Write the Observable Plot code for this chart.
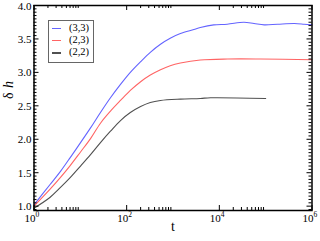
<!DOCTYPE html>
<html><head><meta charset="utf-8">
<script src="https://cdn.jsdelivr.net/npm/d3@7"></script>
<script src="https://cdn.jsdelivr.net/npm/@observablehq/plot@0.6"></script>
<style>
html,body{margin:0;padding:0;background:#fff;}
#wrap{position:relative;width:320px;height:241px;overflow:hidden;}
#legend{position:absolute;left:48px;top:19.5px;width:46px;height:43px;border:1px solid #666;box-sizing:border-box;background:#fff;font-family:"Liberation Serif","DejaVu Serif","Times New Roman",serif;font-size:10.5px;color:#000;}
#legend .row{position:absolute;left:0;height:12px;width:44px;}
#legend .sw{position:absolute;left:2.5px;top:6px;width:9px;height:1.3px;}
#legend .lab{position:absolute;left:20px;top:0;line-height:12px;white-space:nowrap;}
</style></head>
<body>
<div id="wrap"><div id="chart"></div><div id="legend"></div></div>
<script>
// series (3,3)
const tBlue = [1, 2.2, 3.73, 6.1, 10.1, 16.6, 27.2, 44.7, 73.6, 120, 200, 324, 537, 870, 1445, 2818, 3890, 7586, 14800, 33900, 56200, 93300, 182000, 417000, 676000, 1000000];
const hBlue = [1.02, 1.32, 1.52, 1.73, 1.95, 2.17, 2.40, 2.62, 2.82, 3.00, 3.16, 3.30, 3.42, 3.51, 3.58, 3.64, 3.67, 3.71, 3.72, 3.75, 3.73, 3.71, 3.72, 3.73, 3.72, 3.71];
// series (2,3)
const tRed = [1, 2.2, 3.73, 6.1, 10.1, 16.6, 27.2, 44.7, 73.6, 120, 200, 324, 537, 870, 1445, 3890, 15100, 77600, 1000000];
const hRed = [1.0, 1.25, 1.43, 1.61, 1.81, 2.01, 2.24, 2.42, 2.58, 2.73, 2.86, 2.96, 3.04, 3.10, 3.14, 3.185, 3.20, 3.20, 3.19];
// series (2,2)
const tBlack = [1, 2.2, 3.73, 6.1, 10.1, 16.6, 27.2, 44.7, 73.6, 120, 200, 324, 537, 1445, 3890, 6460, 100000];
const hBlack = [0.97, 1.13, 1.28, 1.43, 1.60, 1.77, 1.95, 2.12, 2.28, 2.40, 2.49, 2.55, 2.58, 2.60, 2.61, 2.62, 2.61];

const seriesLabels = ["(3,3)", "(2,3)", "(2,2)"];
const seriesColors = ["#6464ff", "#ff6464", "#505050"];

// tick values
const xMajor = [1, 1e2, 1e4, 1e6];
const xExponents = ["0", "2", "4", "6"];
const xMinor = [2,3,4,5,6,7,8,9, 200,300,400,500,600,700,800,900, 20000,30000,40000,50000,60000,70000,80000,90000];
const yMajor = [1.0, 1.5, 2.0, 2.5, 3.0, 3.5, 4.0];
const yMinor = d3.range(0.95, 4.0, 0.05).filter(v => Math.abs(v * 2 - Math.round(v * 2)) > 1e-6);

const toRows = (ts, hs, s) => ts.map((t, i) => ({t, h: hs[i], s}));
const data = [
  ...toRows(tBlue, hBlue, seriesLabels[0]),
  ...toRows(tRed, hRed, seriesLabels[1]),
  ...toRows(tBlack, hBlack, seriesLabels[2])
];

const W = 320, H = 241;
const mL = 33.5, mR = 8.5, mT = 5, mB = 31;
const fw = W - mL - mR, fh = H - mT - mB;
const font = '"Liberation Serif","DejaVu Serif","Times New Roman",serif';

const chart = Plot.plot({
  width: W, height: H,
  marginLeft: mL, marginRight: mR, marginTop: mT, marginBottom: mB,
  x: {type: "log", domain: [1, 1e6], axis: null},
  y: {domain: [0.935, 4.0], axis: null},
  color: {domain: seriesLabels, range: seriesColors},
  style: {fontFamily: font, fontSize: "11px", background: "#fff", color: "#000"},
  marks: [
    Plot.line(data, {x: "t", y: "h", z: "s", stroke: "s", strokeWidth: 1.1, curve: "catmull-rom"}),
    Plot.tickX(xMajor, {x: d => d, insetTop: fh - 5, stroke: "#000"}),
    Plot.tickX(xMajor, {x: d => d, insetBottom: fh - 5, stroke: "#000"}),
    Plot.tickX(xMinor, {x: d => d, insetTop: fh - 3, stroke: "#000"}),
    Plot.tickX(xMinor, {x: d => d, insetBottom: fh - 3, stroke: "#000"}),
    Plot.tickY(yMajor, {y: d => d, insetRight: fw - 5, stroke: "#000"}),
    Plot.tickY(yMajor, {y: d => d, insetLeft: fw - 5, stroke: "#000"}),
    Plot.tickY(yMinor, {y: d => d, insetRight: fw - 3, stroke: "#000"}),
    Plot.tickY(yMinor, {y: d => d, insetLeft: fw - 3, stroke: "#000"}),
    Plot.frame({stroke: "#000", strokeWidth: 1.5}),
    Plot.text(yMajor, {y: d => d, text: d => d.toFixed(1), frameAnchor: "left", textAnchor: "end", dx: -2.5, dy: 0.5, fontSize: 11, fill: "#000"}),
    Plot.text(xMajor, {x: d => d, text: () => "10", frameAnchor: "bottom", textAnchor: "end", lineAnchor: "bottom", dx: 1.5, dy: 11, fontSize: 11, fill: "#000"}),
    Plot.text(xMajor, {x: d => d, text: (d, i) => xExponents[i], frameAnchor: "bottom", textAnchor: "start", lineAnchor: "bottom", dx: 1.5, dy: 6, fontSize: 7.5, fill: "#000"}),
    Plot.text(["t"], {frameAnchor: "bottom", lineAnchor: "bottom", dy: 20, fontSize: 14, fill: "#000"}),
    Plot.text(["δ"], {frameAnchor: "left", rotate: -90, dx: -25, dy: -9, fontSize: 14, fill: "#000"}),
    Plot.text(["h"], {frameAnchor: "left", rotate: -90, dx: -25, dy: -20, fontSize: 14, fontStyle: "italic", fill: "#000"})
  ]
});
document.getElementById("chart").appendChild(chart);

// legend
const legend = document.getElementById("legend");
seriesLabels.forEach((lab, i) => {
  const row = document.createElement("div");
  row.className = "row";
  row.style.top = (1.5 + i * 12.2) + "px";
  const sw = document.createElement("div");
  sw.className = "sw";
  sw.style.background = seriesColors[i];
  const tx = document.createElement("div");
  tx.className = "lab";
  tx.textContent = lab;
  row.appendChild(sw); row.appendChild(tx);
  legend.appendChild(row);
});
</script>
</body></html>
